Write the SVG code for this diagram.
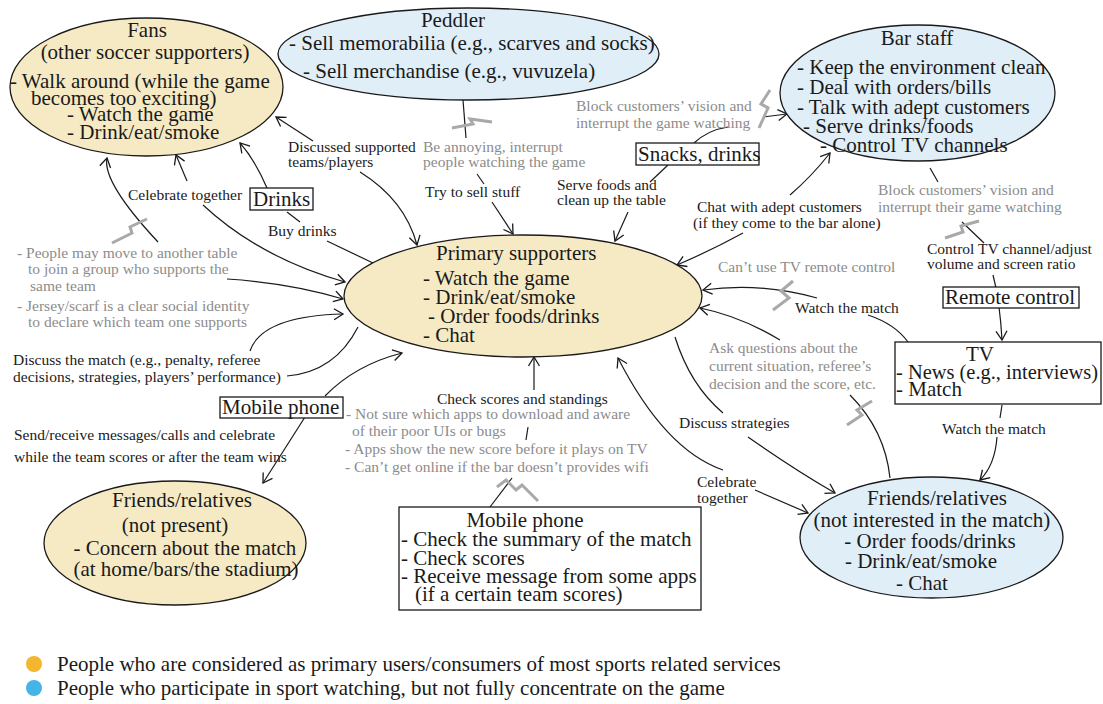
<svg xmlns="http://www.w3.org/2000/svg" width="1103" height="704" viewBox="0 0 1103 704">
<style>
  text { font-family: "Liberation Serif", "Times New Roman", serif; fill: #1a1a1a; }
  .nt { font-size: 21px; }
  .bt { font-size: 21px; }
  .lb { font-size: 15.5px; }
  .gr { font-size: 15.5px; fill: #8c8c8c; }
  .lg { font-size: 21px; }
  .mid { text-anchor: middle; }
  .warm { fill: #f6eac5; stroke: #1a1a1a; stroke-width: 1.3; }
  .cool { fill: #e0eef8; stroke: #1a1a1a; stroke-width: 1.3; }
  .box { fill: #ffffff; stroke: #1a1a1a; stroke-width: 1.3; }
  .conn path { fill: none; stroke: #1a1a1a; stroke-width: 1.2; }
  .conn .a { marker-end: url(#arr); }
  .bolt polyline { fill: none; stroke: #a9a9a9; stroke-width: 3; stroke-linejoin: miter; }
</style>
<defs>
  <marker id="arr" viewBox="-11 -7 13 14" refX="0" refY="0" markerWidth="13" markerHeight="14" markerUnits="userSpaceOnUse" orient="auto">
    <path d="M-9,-5.5 L0,0 L-9,5.5" fill="none" stroke="#1a1a1a" stroke-width="1.3"/>
  </marker>
</defs>
<rect width="1103" height="704" fill="#ffffff"/>

<!-- connectors -->
<g class="conn">
  <path class="a" d="M313,141 L276,117"/>
  <path class="a" d="M360,172 Q405,200 417,245"/>
  <path class="a" d="M187,181 L176,155"/>
  <path class="a" d="M203,205 Q260,258 345,282"/>
  <path class="a" d="M267,188 Q255,160 240,143"/>
  <path d="M287,212 L300,222"/>
  <path d="M327,241 L373,263"/>
  <path class="a" d="M158,242 Q102,182 107,158"/>
  <path class="a" d="M227,279 Q290,283 343,299"/>
  <path class="a" d="M250,351 Q262,316 343,314"/>
  <path d="M287,376 Q335,372 358,327"/>
  <path class="a" d="M325,396 Q355,365 402,353"/>
  <path class="a" d="M305,417 L263,483"/>
  <path class="a" d="M534,390 L534,357"/>
  <path d="M528,427 L526,440"/>
  <path d="M512,478 L490,507"/>
  <path d="M463,100 L466,138"/>
  <path d="M477,174 L484,184"/>
  <path class="a" d="M492,202 L513,234"/>
  <path class="a" d="M628,212 L615,241"/>
  <path d="M650,182 L668,165"/>
  <path d="M694,143 Q708,130 728,127"/>
  <path class="a" d="M763,117 L787,114"/>
  <path class="a" d="M790,195 Q812,176 830,153"/>
  <path class="a" d="M743,233 Q712,250 677,265"/>
  <path d="M930,168 L938,182"/>
  <path d="M962,222 L984,243"/>
  <path d="M993,275 L996,288"/>
  <path class="a" d="M999,307 Q1001,322 1002,340"/>
  <path d="M908,342 Q895,324 868,315"/>
  <path class="a" d="M817,298 Q760,282 703,290"/>
  <path class="a" d="M780,340 Q740,316 700,308"/>
  <path d="M850,395 Q885,430 890,478"/>
  <path d="M675,337 Q690,385 723,413"/>
  <path class="a" d="M748,437 Q795,470 835,493"/>
  <path class="a" d="M723,470 Q665,450 618,358"/>
  <path class="a" d="M755,490 Q785,503 808,513"/>
  <path d="M1002,405 L1000,418"/>
  <path class="a" d="M997,437 Q995,465 980,480"/>
</g>

<!-- interruption marks on links -->
<g class="bolt">
  <polyline points="112,243 132,233 130,227 147,219"/>
  <polyline points="452,128 473,124 470,119 492,122"/>
  <polyline points="770,90 761,104 768,108 759,128"/>
  <polyline points="945,238 963,232 961,226 979,221"/>
  <polyline points="793,281 781,291 789,298 773,310"/>
  <polyline points="872,401 857,410 862,415 847,425"/>
  <polyline points="497,487 506,480 516,490 522,485 538,501"/>
</g>

<!-- people -->
<g id="fans">
  <ellipse class="warm" cx="146.5" cy="87" rx="136.5" ry="69"/>
  <text class="nt mid" x="147" y="37">Fans</text>
  <text class="nt mid" x="145" y="59">(other soccer supporters)</text>
  <text class="nt" x="10" y="88">- Walk around (while the game</text>
  <text class="nt" x="31" y="105">becomes too exciting)</text>
  <text class="nt" x="67" y="121">- Watch the game</text>
  <text class="nt" x="67" y="139">- Drink/eat/smoke</text>
</g>

<g id="peddler">
  <ellipse class="cool" cx="468.5" cy="54" rx="190.5" ry="46"/>
  <text class="nt mid" x="453" y="27">Peddler</text>
  <text class="nt" x="289" y="50">- Sell memorabilia (e.g., scarves and socks)</text>
  <text class="nt" x="303" y="78">- Sell merchandise (e.g., vuvuzela)</text>
</g>

<g id="bar-staff">
  <ellipse class="cool" cx="917.5" cy="93" rx="137.5" ry="68"/>
  <text class="nt mid" x="917" y="45">Bar staff</text>
  <text class="nt" x="797" y="74">- Keep the environment clean</text>
  <text class="nt" x="797" y="94">- Deal with orders/bills</text>
  <text class="nt" x="797" y="114">- Talk with adept customers</text>
  <text class="nt" x="803" y="133">- Serve drinks/foods</text>
  <text class="nt" x="820" y="152">- Control TV channels</text>
</g>

<g id="primary">
  <ellipse class="warm" cx="523" cy="296" rx="179" ry="61"/>
  <text class="nt" x="436" y="260">Primary supporters</text>
  <text class="nt" x="423" y="285">- Watch the game</text>
  <text class="nt" x="423" y="304">- Drink/eat/smoke</text>
  <text class="nt" x="428" y="323">- Order foods/drinks</text>
  <text class="nt" x="423" y="342">- Chat</text>
</g>

<g id="friends-away">
  <ellipse class="warm" cx="175" cy="543" rx="131" ry="62"/>
  <text class="nt mid" x="182" y="507">Friends/relatives</text>
  <text class="nt mid" x="175" y="532">(not present)</text>
  <text class="nt mid" x="185" y="555">- Concern about the match</text>
  <text class="nt mid" x="186" y="576">(at home/bars/the stadium)</text>
</g>

<g id="friends-bar">
  <ellipse class="cool" cx="931.5" cy="537.5" rx="131.5" ry="60.5"/>
  <text class="nt mid" x="937" y="505">Friends/relatives</text>
  <text class="nt mid" x="932" y="527">(not interested in the match)</text>
  <text class="nt mid" x="930" y="548">- Order foods/drinks</text>
  <text class="nt mid" x="921" y="568">- Drink/eat/smoke</text>
  <text class="nt mid" x="922" y="590">- Chat</text>
</g>

<!-- devices and items -->
<g id="tv">
  <rect class="box" x="895" y="342" width="206" height="62"/>
  <text class="nt mid" x="980" y="361">TV</text>
  <text class="nt" x="896" y="379" textLength="202" lengthAdjust="spacingAndGlyphs">- News (e.g., interviews)</text>
  <text class="nt" x="896" y="396">- Match</text>
</g>

<g id="mobile-box">
  <rect class="box" x="399" y="507" width="302" height="103"/>
  <text class="nt mid" x="525" y="527">Mobile phone</text>
  <text class="nt" x="401" y="546">- Check the summary of the match</text>
  <text class="nt" x="401" y="565">- Check scores</text>
  <text class="nt" x="401" y="583">- Receive message from some apps</text>
  <text class="nt" x="415" y="601">(if a certain team scores)</text>
</g>

<g id="drinks">
  <rect class="box" x="250" y="188" width="63" height="22"/>
  <text class="bt" x="253" y="206">Drinks</text>
</g>

<g id="snacks">
  <rect class="box" x="636" y="143" width="123" height="22"/>
  <text class="bt" x="638" y="161">Snacks, drinks</text>
</g>

<g id="remote">
  <rect class="box" x="943" y="287" width="136" height="21"/>
  <text class="bt" x="945" y="304">Remote control</text>
</g>

<g id="mobile-tag">
  <rect class="box" x="220" y="397" width="123" height="21"/>
  <text class="bt" x="222" y="414">Mobile phone</text>
</g>

<!-- link labels -->
<g id="labels">
  <text class="lb" x="288" y="152">Discussed supported</text>
  <text class="lb" x="288" y="167">teams/players</text>
  <text class="gr" x="423" y="152">Be annoying, interrupt</text>
  <text class="gr" x="423" y="167">people watching the game</text>
  <text class="lb" x="425" y="197">Try to sell stuff</text>
  <text class="lb" x="557" y="190">Serve foods and</text>
  <text class="lb" x="557" y="205">clean up the table</text>
  <text class="gr" x="576" y="111">Block customers’ vision and</text>
  <text class="gr" x="576" y="128">interrupt the game watching</text>
  <text class="lb" x="697" y="212">Chat with adept customers</text>
  <text class="lb" x="693" y="228">(if they come to the bar alone)</text>
  <text class="gr" x="878" y="195">Block customers’ vision and</text>
  <text class="gr" x="878" y="212">interrupt their game watching</text>
  <text class="lb" x="927" y="254">Control TV channel/adjust</text>
  <text class="lb" x="927" y="269">volume and screen ratio</text>
  <text class="gr" x="718" y="272">Can’t use TV remote control</text>
  <text class="lb" x="795" y="313">Watch the match</text>
  <text class="gr" x="709" y="353">Ask questions about the</text>
  <text class="gr" x="709" y="371">current situation, referee’s</text>
  <text class="gr" x="709" y="389">decision and the score, etc.</text>
  <text class="lb" x="679" y="428">Discuss strategies</text>
  <text class="lb" x="942" y="434">Watch the match</text>
  <text class="lb" x="697" y="487">Celebrate</text>
  <text class="lb" x="697" y="503">together</text>
  <text class="lb" x="437" y="404">Check scores and standings</text>
  <text class="gr" x="346" y="419">- Not sure which apps to download and aware</text>
  <text class="gr" x="352" y="436">of their poor UIs or bugs</text>
  <text class="gr" x="345" y="454">- Apps show the new score before it plays on TV</text>
  <text class="gr" x="345" y="472">- Can’t get online if the bar doesn’t provides wifi</text>
  <text class="lb" x="14" y="440">Send/receive messages/calls and celebrate</text>
  <text class="lb" x="14" y="462">while the team scores or after the team wins</text>
  <text class="lb" x="13" y="365">Discuss the match (e.g., penalty, referee</text>
  <text class="lb" x="13" y="382">decisions, strategies, players’ performance)</text>
  <text class="gr" x="17" y="258">- People may move to another table</text>
  <text class="gr" x="28" y="274">to join a group who supports the</text>
  <text class="gr" x="30" y="291">same team</text>
  <text class="gr" x="17" y="311">- Jersey/scarf is a clear social identity</text>
  <text class="gr" x="28" y="327">to declare which team one supports</text>
  <text class="lb" x="128" y="200">Celebrate together</text>
  <text class="lb" x="268" y="236">Buy drinks</text>
</g>

<!-- legend -->
<g id="legend">
  <circle cx="34" cy="664" r="8" fill="#f4b52f"/>
  <text class="lg" x="57" y="671">People who are considered as primary users/consumers of most sports related services</text>
  <circle cx="34" cy="688" r="8" fill="#45b4e6"/>
  <text class="lg" x="57" y="695">People who participate in sport watching, but not fully concentrate on the game</text>
</g>
</svg>
